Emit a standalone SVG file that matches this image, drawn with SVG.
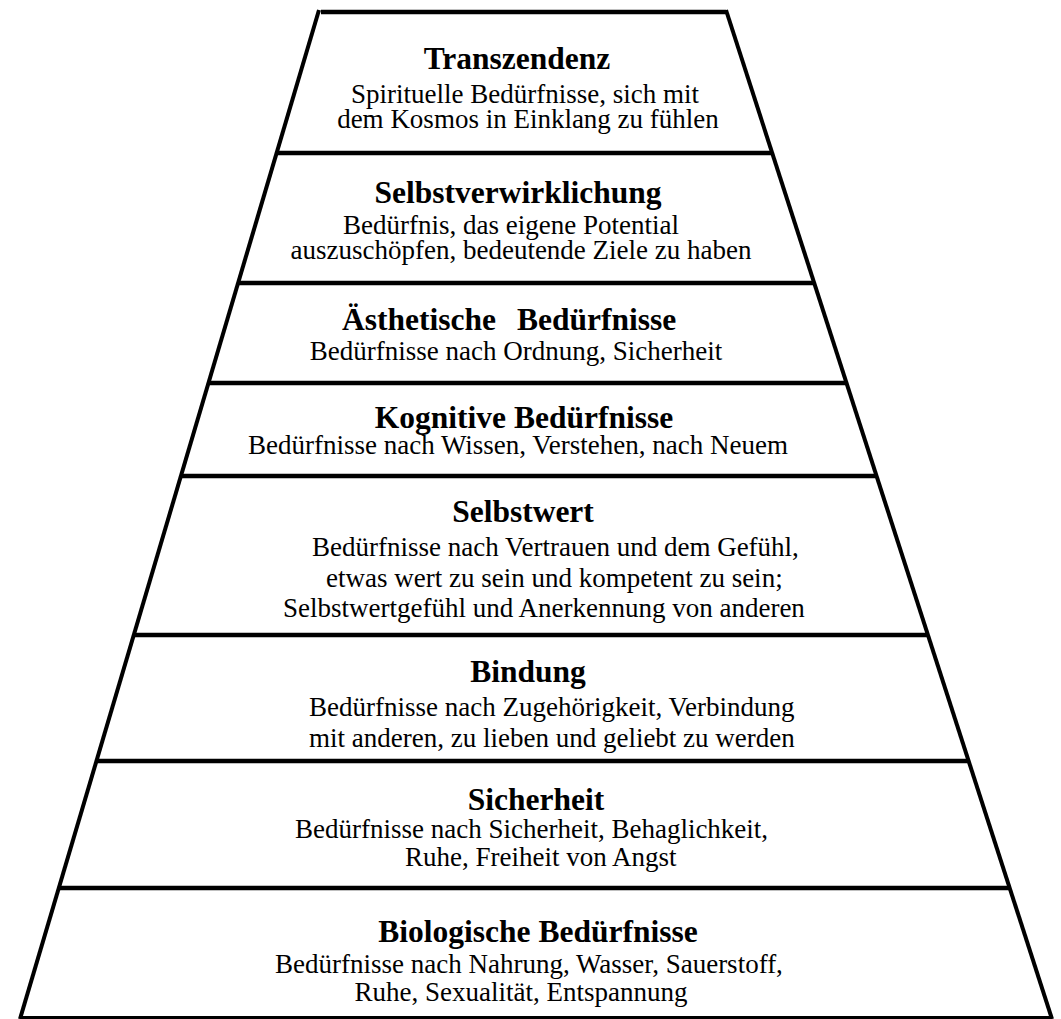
<svg xmlns="http://www.w3.org/2000/svg" width="1061" height="1019" viewBox="0 0 1061 1019">
<style>
  .edge { stroke:#000; stroke-width:4; fill:none; }
  .sep { stroke:#000; stroke-width:4.5; fill:none; }
  .t { font-family:"Liberation Serif","Times New Roman",serif; font-weight:bold; font-size:31.5px; fill:#000; }
  .s { font-family:"Liberation Serif","Times New Roman",serif; font-size:27px; fill:#000; }
  .m { text-anchor:middle; }
</style>
<rect x="0" y="0" width="1061" height="1019" fill="#fff"/>
<g id="frame">
  <line class="edge" x1="319" y1="10" x2="20" y2="1019"/>
  <line class="edge" x1="726" y1="10" x2="1052" y2="1019"/>
  <line class="sep" x1="321" y1="12" x2="726" y2="12"/>
  <line class="sep" x1="277" y1="153" x2="772" y2="153"/>
  <line class="sep" x1="238" y1="283" x2="815" y2="283"/>
  <line class="sep" x1="209" y1="383" x2="847" y2="383"/>
  <line class="sep" x1="181" y1="476" x2="877" y2="476"/>
  <line class="sep" x1="134" y1="635" x2="929" y2="635"/>
  <line class="sep" x1="97" y1="761" x2="970" y2="761"/>
  <line class="sep" x1="59" y1="888" x2="1011" y2="888"/>
  <line class="edge" x1="21" y1="1018" x2="1051" y2="1018" stroke-width="2"/>
</g>
<g id="tier-transzendenz">
  <text class="t m" x="517" y="69">Transzendenz</text>
  <text class="s m" x="525" y="103">Spirituelle Bedürfnisse, sich mit</text>
  <text class="s m" x="528" y="128">dem Kosmos in Einklang zu fühlen</text>
</g>
<g id="tier-selbstverwirklichung">
  <text class="t m" x="518" y="203">Selbstverwirklichung</text>
  <text class="s m" x="511" y="234">Bedürfnis, das eigene Potential</text>
  <text class="s m" x="521" y="259">auszuschöpfen, bedeutende Ziele zu haben</text>
</g>
<g id="tier-aesthetisch">
  <text class="t" x="342" y="330">Ästhetische<tspan x="517">Bedürfnisse</tspan></text>
  <text class="s m" x="516" y="360">Bedürfnisse nach Ordnung, Sicherheit</text>
</g>
<g id="tier-kognitiv">
  <text class="t m" x="524" y="428">Kognitive Bedürfnisse</text>
  <text class="s m" x="518" y="454">Bedürfnisse nach Wissen, Verstehen, nach Neuem</text>
</g>
<g id="tier-selbstwert">
  <text class="t m" x="523" y="522">Selbstwert</text>
  <text class="s" x="312" y="556">Bedürfnisse nach Vertrauen und dem Gefühl,</text>
  <text class="s" x="326" y="587">etwas wert zu sein und kompetent zu sein;</text>
  <text class="s" x="283" y="617">Selbstwertgefühl und Anerkennung von anderen</text>
</g>
<g id="tier-bindung">
  <text class="t m" x="528" y="682">Bindung</text>
  <text class="s" x="309" y="716">Bedürfnisse nach Zugehörigkeit, Verbindung</text>
  <text class="s" x="309" y="747">mit anderen, zu lieben und geliebt zu werden</text>
</g>
<g id="tier-sicherheit">
  <text class="t m" x="536" y="810">Sicherheit</text>
  <text class="s" x="295" y="838">Bedürfnisse nach Sicherheit, Behaglichkeit,</text>
  <text class="s" x="405" y="866">Ruhe, Freiheit von Angst</text>
</g>
<g id="tier-biologisch">
  <text class="t m" x="538" y="942">Biologische Bedürfnisse</text>
  <text class="s" x="275" y="973">Bedürfnisse nach Nahrung, Wasser, Sauerstoff,</text>
  <text class="s m" x="521" y="1001">Ruhe, Sexualität, Entspannung</text>
</g>
</svg>
